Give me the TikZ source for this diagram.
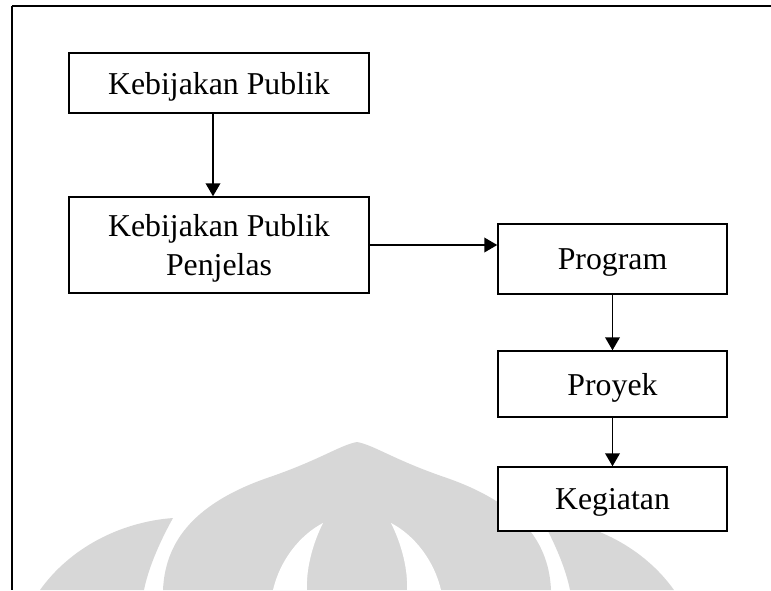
\documentclass[tikz,border=0pt]{standalone}
\usepackage{fontspec}
\setmainfont{Liberation Serif}
\usetikzlibrary{arrows.meta}
\definecolor{markGray}{HTML}{D7D7D7}

\begin{document}
\begin{tikzpicture}[x=0.75pt, y=-0.75pt, >={Triangle[length=9.75pt, width=11pt]},
      font=\fontsize{23.85}{28.6}\selectfont,
      box/.style={draw, line width=1.1pt, fill=white, align=center, inner sep=0pt, text depth=0pt},
      leftbox/.style={box, minimum width=225pt},
      sidebox/.style={box, minimum width=171.75pt},
      flow/.style={->, line width=1.2pt}]
    \useasboundingbox (0,0) rectangle (771,590);
    % ---- faint logo behind the chart
    \fill[markGray] (40,590) .. controls (70,548) and (120,522) .. (173,518)
      .. controls (158,545) and (148,570) .. (144,590) -- cycle;
    \fill[markGray] (674,590) .. controls (644,548) and (594,522) .. (541,518)
      .. controls (556,545) and (566,570) .. (570,590) -- cycle;
    \fill[markGray] (163,590) .. controls (165,545) and (190,505) .. (267,478)
      .. controls (320,460) and (340,445) .. (357,442)
      .. controls (374,445) and (394,460) .. (447,478)
      .. controls (524,505) and (549,545) .. (551,590) -- cycle;
    \fill[white] (273,590) .. controls (280,560) and (300,535) .. (323,523)
      .. controls (312,545) and (306,570) .. (307,590) -- cycle;
    \fill[white] (441,590) .. controls (434,560) and (414,535) .. (391,523)
      .. controls (402,545) and (408,570) .. (407,590) -- cycle;
    % ---- frame
    \draw[line width=1.6pt] (12,6) -- (771,6);
    \draw[line width=1.1pt] (12,6) -- (12,590);
    % ---- left column
    \node[leftbox, minimum height=45pt] (pub) at (219,83) {Kebijakan Publik};
    \node[leftbox, minimum height=72pt] (penj) at (219,245) {Kebijakan Publik\\Penjelas};
    % ---- right column
    \node[sidebox, minimum height=52.5pt] (prog) at (612.5,259) {Program};
    \node[sidebox, minimum height=49.5pt] (proy) at (612.5,384) {Proyek};
    \node[sidebox, minimum height=48pt] (keg) at (612.5,499) {Kegiatan};
    % ---- arrows
    \draw[flow] ([xshift=-4.5pt]pub.south) -- ([xshift=-4.5pt]penj.north);
    \draw[flow] (penj.east) -- (penj.east -| prog.west);
    \draw[flow] (prog) -- (proy);
    \draw[flow] (proy) -- (keg);
  \end{tikzpicture}
\end{document}
